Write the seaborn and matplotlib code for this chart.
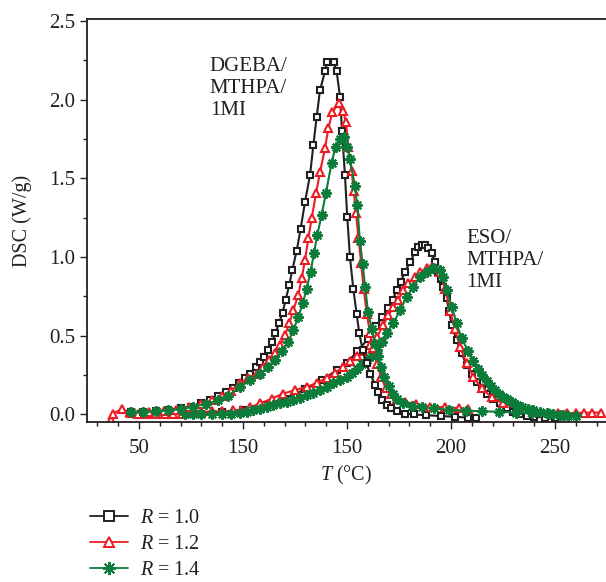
"""DSC curves for DGEBA/MTHPA/1MI and ESO/MTHPA/1MI at three ratios R."""
import matplotlib
matplotlib.use("Agg")
import matplotlib.pyplot as plt
from matplotlib.lines import Line2D
from matplotlib.ticker import MultipleLocator, FixedLocator, FixedFormatter
import seaborn as sns

# ---- data (x on the plotting scale, y in W/g) ----
dgeba_r10_x = [46, 52, 58, 64, 70, 75, 80, 84, 88, 92, 95, 98, 101, 103.5, 106, 108,
               110, 112, 114, 115.5, 117.3, 119, 120.5, 122.2, 123.7, 125.8, 127.7,
               129.8, 132.2, 133.8, 135.4, 137, 139.4, 140.5, 143.5, 145, 146.6, 147.6,
               149, 150.1, 151.4, 153, 154.6, 155.9, 157.5, 159.4, 161, 163.5, 165, 167,
               169, 171, 174, 178, 182, 188, 195, 202, 208, 212]
dgeba_r10_y = [0.015, 0.018, 0.022, 0.028, 0.04, 0.05, 0.07, 0.09, 0.115, 0.145, 0.17,
               0.2, 0.23, 0.26, 0.30, 0.335, 0.366, 0.41, 0.46, 0.515, 0.58, 0.645, 0.73,
               0.82, 0.92, 1.04, 1.18, 1.35, 1.52, 1.71, 1.89, 2.06, 2.18, 2.24, 2.24,
               2.18, 2.02, 1.80, 1.52, 1.256, 1.0, 0.80, 0.64, 0.515, 0.41, 0.324, 0.26,
               0.19, 0.14, 0.09, 0.06, 0.04, 0.02, 0.005, 0.0, -0.005, -0.01, -0.015,
               -0.02, -0.025]

dgeba_r12_x = [46, 55, 62, 68, 74, 80, 85, 90, 94, 98.6, 102.5, 106.6, 109.8, 112.6,
               115.4, 117.8, 120.2, 122.3, 124.2, 126.6, 128.2, 129.8, 131.4, 133, 135.1,
               137, 139.4, 141, 143, 146, 148, 149.5, 150.6, 152.2, 153.2, 154.3, 155.5,
               156.8, 158, 159.5, 161, 162.5, 164.5, 166.3, 168.5, 171, 174, 178, 183,
               190, 197, 204, 208]
dgeba_r12_y = [0.012, 0.018, 0.024, 0.03, 0.045, 0.065, 0.09, 0.12, 0.15, 0.2, 0.229,
               0.26, 0.30, 0.345, 0.388, 0.44, 0.504, 0.58, 0.663, 0.76, 0.865, 0.98,
               1.12, 1.246, 1.405, 1.54, 1.69, 1.82, 1.92, 1.98, 1.93, 1.86, 1.70, 1.55,
               1.42, 1.28, 1.12, 0.96, 0.80, 0.64, 0.52, 0.42, 0.32, 0.24, 0.17, 0.13,
               0.1, 0.08, 0.065, 0.05, 0.045, 0.04, 0.035]

dgeba_r14_x = [46, 52, 58, 64, 70, 76, 82, 88, 93, 98.6, 103.4, 108.2, 112.2, 115.4,
               118.6, 121.8, 124.2, 126.6, 128.7, 130.6, 132.5, 134.1, 135.7, 137.8,
               139.9, 142.6, 144.5, 146.5, 148.5, 150.2, 151.4, 153.8, 154.9, 156.2,
               157.5, 158.7, 160.1, 162, 163.5, 165, 166.5, 168, 170, 172, 174, 177, 181,
               186, 192, 199, 207, 215, 223, 231, 239, 247, 254, 260]
dgeba_r14_y = [0.015, 0.018, 0.02, 0.025, 0.035, 0.05, 0.065, 0.09, 0.12, 0.175, 0.218,
               0.26, 0.30, 0.345, 0.40, 0.46, 0.536, 0.62, 0.705, 0.80, 0.906, 1.025,
               1.14, 1.27, 1.41, 1.60, 1.70, 1.75, 1.76, 1.70, 1.62, 1.45, 1.33, 1.10,
               0.955, 0.81, 0.65, 0.54, 0.45, 0.37, 0.30, 0.24, 0.18, 0.13, 0.10, 0.075,
               0.055, 0.045, 0.038, 0.03, 0.024, 0.02, 0.017, 0.012, 0.007, 0.002,
               -0.004, -0.01]

eso_r10_x = [80, 90, 100, 110, 120, 130, 138, 145, 150, 155, 160, 164, 167, 169.9, 172,
             173.9, 175.8, 177.9, 180.3, 182.7, 184.3, 186, 187.5, 189, 190.7, 192.3,
             193.9, 195, 196.3, 197.9, 199, 200.3, 202.7, 205.1, 207.5, 209.9, 212.3,
             214.7, 217.1, 220.3, 223.5, 226.7, 229.9, 233.2, 236.4, 240, 245, 250]
eso_r10_y = [0.005, 0.015, 0.03, 0.06, 0.1, 0.16, 0.22, 0.28, 0.33, 0.40, 0.48, 0.56,
             0.62, 0.674, 0.73, 0.79, 0.843, 0.906, 0.97, 1.03, 1.065, 1.075, 1.076,
             1.06, 1.023, 0.97, 0.906, 0.86, 0.81, 0.737, 0.66, 0.568, 0.47, 0.388,
             0.313, 0.26, 0.207, 0.165, 0.133, 0.10, 0.07, 0.038, 0.017, 0.002, -0.01,
             -0.015, -0.02, -0.02]

eso_r12_x = [36.5, 37.5, 41.7, 45.7, 49.7, 54, 58.2, 62.5, 66.5, 70.5, 75, 80, 85, 90,
             95, 99, 103.4, 108.2, 113.8, 119.4, 125, 130.6, 135.4, 140.2, 144.2, 148.2,
             151.4, 154.6, 157.8, 161.1, 164.3, 167.5, 169.9, 172.3, 174.7, 177.1,
             179.5, 182.7, 185.1, 188.3, 190.7, 192.5, 194.7, 197.1, 199.5, 201.9,
             204.3, 207.5, 210.7, 214.7, 219.5, 225.1, 231.5, 239.5, 247, 251.5, 255.6,
             260, 264, 268, 272]
eso_r12_y = [-0.035, 0.005, 0.035, 0.015, 0.005, 0.005, 0.005, 0.005, 0.005, 0.005,
             0.01, 0.015, 0.02, 0.02, 0.025, 0.03, 0.045, 0.07, 0.10, 0.133, 0.154,
             0.175, 0.2, 0.233, 0.265, 0.3, 0.34, 0.37, 0.40, 0.44, 0.49, 0.57, 0.63,
             0.684, 0.727, 0.79, 0.833, 0.875, 0.906, 0.928, 0.94, 0.93, 0.906, 0.80,
             0.66, 0.54, 0.43, 0.324, 0.24, 0.165, 0.11, 0.07, 0.038, 0.017, 0.01,
             0.008, 0.006, 0.01, 0.01, 0.012, 0.012]

eso_r14_x = [72, 76, 80, 85, 90, 94, 98.6, 102, 105, 108, 111.4, 114.5, 117.8, 121,
             124.2, 127.4, 130.6, 133.8, 137, 140.2, 143.4, 146.6, 149.8, 152.2, 154.6,
             157, 159.4, 161.8, 164.3, 166.7, 169.1, 172.3, 175.5, 178.7, 181.9, 185.1,
             188.3, 191.5, 194.7, 196.3, 197.9, 200.3, 202.7, 205.1, 208.3, 210.7,
             213.1, 215, 217.2, 219, 221.2, 223, 225.2, 227, 229.2, 231.5, 234, 237,
             239.6, 243, 246, 249, 252.4, 256]
eso_r14_y = [0.0, 0.0, 0.003, 0.005, 0.005, 0.005, 0.006, 0.015, 0.027, 0.037, 0.048,
             0.058, 0.07, 0.08, 0.09, 0.105, 0.123, 0.138, 0.154, 0.175, 0.197, 0.218,
             0.24, 0.265, 0.29, 0.318, 0.345, 0.37, 0.41, 0.46, 0.515, 0.58, 0.663,
             0.747, 0.81, 0.875, 0.906, 0.928, 0.917, 0.875, 0.79, 0.684, 0.578, 0.483,
             0.40, 0.34, 0.29, 0.25, 0.21, 0.18, 0.155, 0.13, 0.112, 0.095, 0.08, 0.062,
             0.048, 0.036, 0.027, 0.018, 0.01, 0.003, -0.005, -0.01]

x_ticks = [50, 100, 150, 200, 250]
x_tick_labels = ["50", "150", "150", "200", "250"]
ratio_labels = ["$R$ = 1.0", "$R$ = 1.2", "$R$ = 1.4"]

BLACK = "#231f20"
RED = "#ed1c24"
GREEN = "#0b7c3a"
ASTER = (8, 2, 0)
FS = 14.5

sns.set_style("ticks")
plt.rcParams["font.family"] = ["Liberation Serif", "DejaVu Serif"]
plt.rcParams["mathtext.fontset"] = "custom"
plt.rcParams["mathtext.rm"] = "Liberation Serif"
plt.rcParams["mathtext.it"] = "Liberation Serif:italic"

fig = plt.figure(figsize=(6.06, 5.82), dpi=100)
ax = fig.add_axes([0.1436, 0.2744, 0.8564, 0.693])

styles = [
    (BLACK, "s", 4.6, "white"),
    (RED, "^", 5.4, "white"),
    (GREEN, ASTER, 7.5, GREEN),
]
curves = [
    (eso_r10_x, eso_r10_y, 0), (eso_r12_x, eso_r12_y, 1), (eso_r14_x, eso_r14_y, 2),
    (dgeba_r10_x, dgeba_r10_y, 0), (dgeba_r12_x, dgeba_r12_y, 1),
    (dgeba_r14_x, dgeba_r14_y, 2),
]
for xs, ys, k in curves:
    color, marker, ms, mfc = styles[k]
    sns.lineplot(x=xs, y=ys, ax=ax, color=color, marker=marker, markersize=ms,
                 markerfacecolor=mfc, markeredgecolor=color, markeredgewidth=1.5,
                 linewidth=1.5, sort=False, estimator=None, legend=False)

ax.set_xlim(25, 274.5)
ax.set_ylim(-0.05, 2.513)
ax.xaxis.set_major_locator(FixedLocator(x_ticks))
ax.xaxis.set_major_formatter(FixedFormatter(x_tick_labels))
ax.xaxis.set_minor_locator(MultipleLocator(10))
ax.yaxis.set_major_locator(MultipleLocator(0.5))
ax.yaxis.set_minor_locator(MultipleLocator(0.25))
ax.yaxis.set_major_formatter(plt.FuncFormatter(lambda v, p: f"{v:.1f}"))
ax.tick_params(which="major", direction="out", length=5, width=1, labelsize=15,
               color=BLACK, labelcolor=BLACK)
ax.tick_params(which="minor", direction="out", length=3, width=1, color=BLACK)
ax.tick_params(axis="x", pad=7)
for side in ["left", "top", "bottom"]:
    ax.spines[side].set_linewidth(1.3)
    ax.spines[side].set_color(BLACK)
ax.spines["right"].set_visible(False)

ax.set_xlabel("$T$ (°C)", fontsize=FS, color=BLACK, labelpad=4)
ax.set_ylabel("DSC (W/g)", fontsize=FS, color=BLACK, labelpad=12)

ax.text(84, 2.27, "DGEBA/\nMTHPA/\n1MI", fontsize=15, color=BLACK,
        va="top", ha="left", linespacing=1.22)
ax.text(207.5, 1.18, "ESO/\nMTHPA/\n1MI", fontsize=15, color=BLACK,
        va="top", ha="left", linespacing=1.22)

handles = [
    Line2D([], [], color=styles[k][0], marker=styles[k][1], markersize=styles[k][2] + 2,
           markerfacecolor=styles[k][3], markeredgecolor=styles[k][0],
           markeredgewidth=1.4, linewidth=1.3)
    for k in range(3)
]
fig.legend(handles, ratio_labels, loc="upper left", bbox_to_anchor=(0.135, 0.14),
           frameon=False, fontsize=FS, handlelength=1.9, labelspacing=0.36,
           handletextpad=0.6, borderaxespad=0, labelcolor=BLACK)

fig.savefig("out.png", dpi=100)
plt.close(fig)
